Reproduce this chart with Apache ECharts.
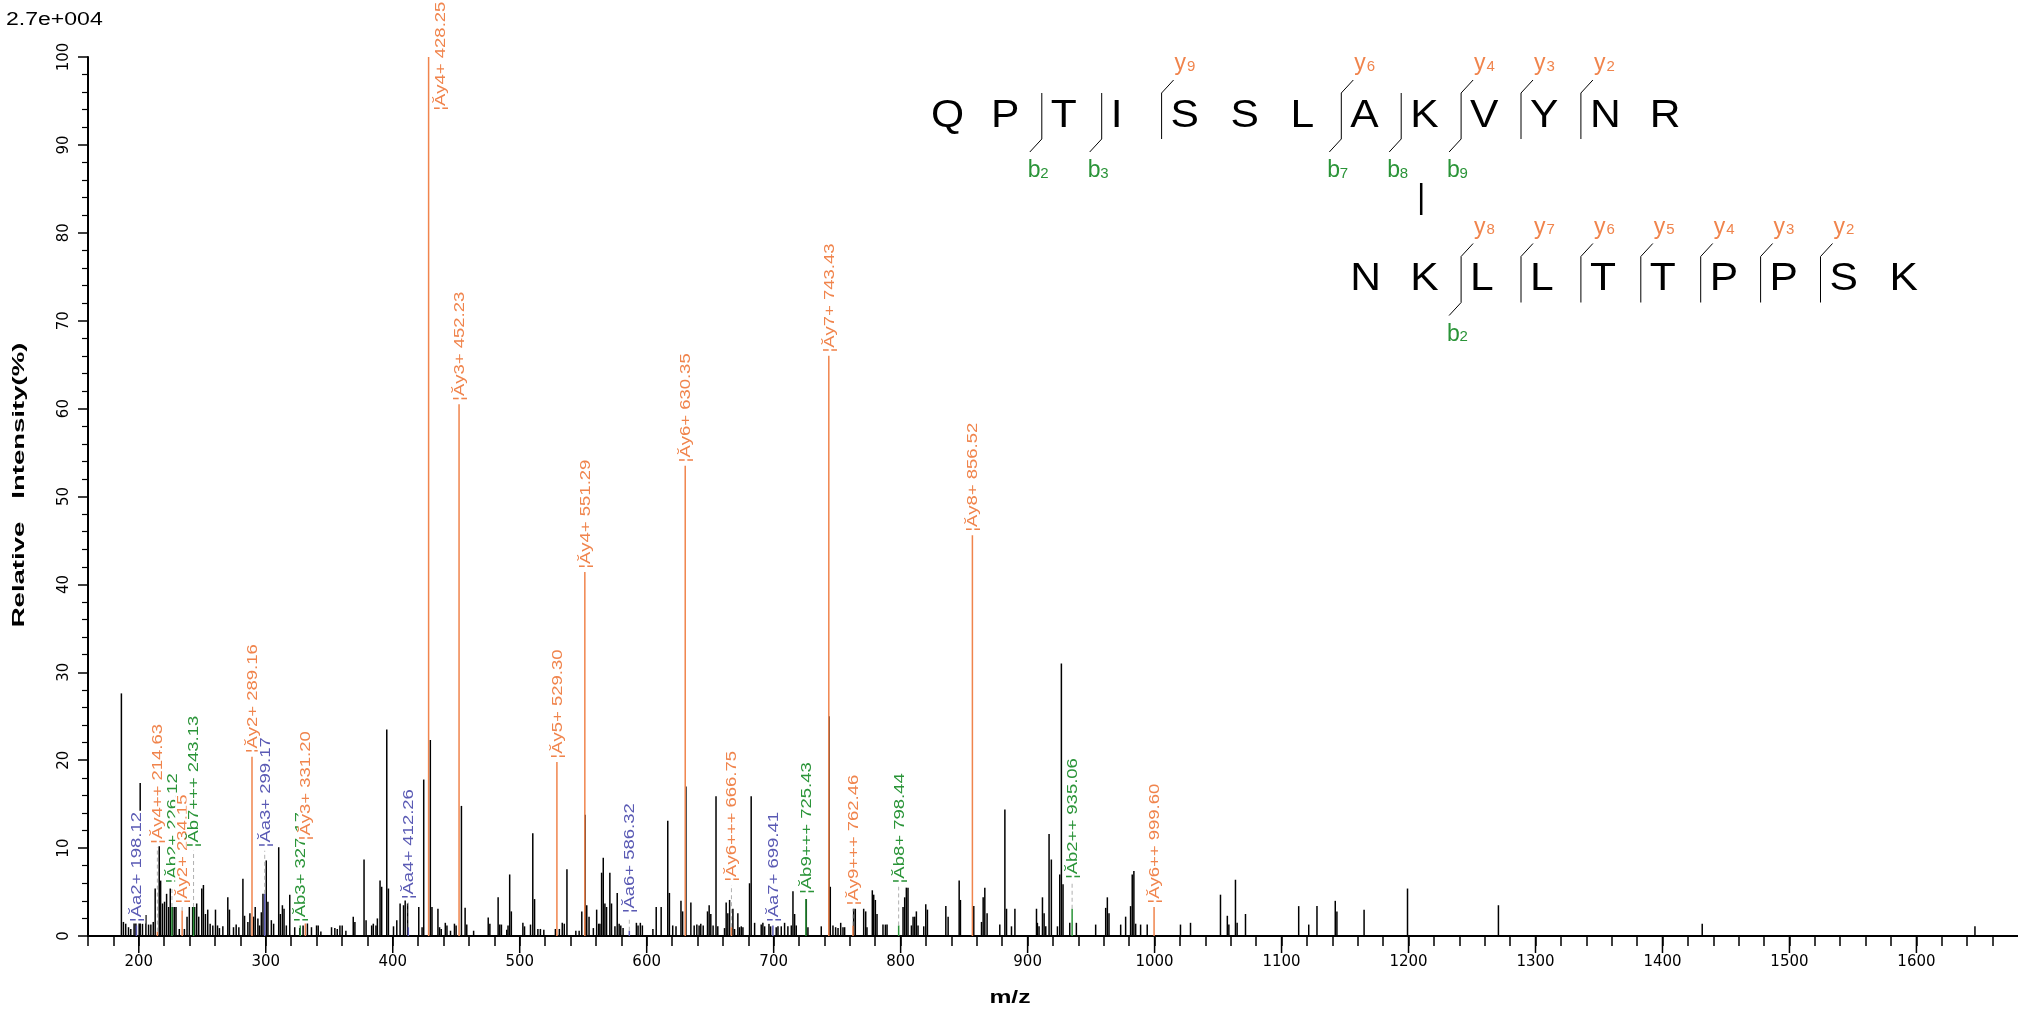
<!DOCTYPE html>
<html><head><meta charset="utf-8">
<script src="https://cdn.jsdelivr.net/npm/echarts@6/dist/echarts.min.js"></script>
<style>html,body{margin:0;padding:0;background:#fff}#c{width:2018px;height:1010px}</style>
</head><body><div id="c"></div>
<script>
// ---------- data ----------
const peakMz = [186.3,187.9,189.7,191.9,193.7,196.3,197.7,200.3,201.1,202.9,205.6,207.7,209.5,211.4,212.9,216.1,217.2,218.7,220.3,221.9,223.5,224.8,226.6,228.0,229.3,231.9,235.9,238.0,239.8,242.4,244.0,245.6,247.2,249.6,250.9,252.5,254.3,256.2,258.3,260.4,262.0,263.5,266.2,270.1,271.4,274.6,276.7,278.8,282.0,283.3,285.9,287.5,290.4,291.7,293.8,295.1,296.5,297.8,300.4,301.7,304.4,306.2,310.2,311.5,313.1,314.4,316.2,318.9,322.8,326.8,329.4,332.8,336.0,340.0,341.3,343.4,351.8,354.4,356.3,358.4,360.2,363.1,368.9,370.2,377.4,379.0,383.4,384.7,386.8,387.9,390.0,391.3,395.3,396.6,400.6,403.2,405.8,408.5,409.8,
411.7,420.5,423.1,424.4,429.6,430.9,435.6,436.9,438.2,441.4,442.7,445.5,448.6,449.9,454.1,457.0,458.3,463.7,475.2,476.5,483.0,484.3,485.6,489.8,490.8,492.1,493.4,502.5,503.8,508.5,510.3,511.7,514.3,516.3,519.0,528.1,531.2,533.5,535.1,537.2,544.2,546.8,548.9,551.5,552.8,554.6,558.0,560.6,562.2,563.2,564.5,565.8,567.1,568.4,571.0,572.3,575.0,576.8,578.3,579.6,581.4,591.9,593.2,595.0,596.6,604.9,607.5,611.4,616.6,617.9,620.5,623.1,627.0,628.3,630.9,634.8,637.4,639.5,641.3,642.6,644.5,647.9,649.2,650.5,652.3,654.6,
656.0,661.3,662.6,663.9,665.3,667.9,669.2,671.8,673.1,674.5,675.8,681.0,682.3,685.0,690.2,691.5,692.9,696.3,697.6,702.0,703.4,706.0,708.6,711.2,713.9,715.2,716.5,717.8,725.7,727.0,737.5,743.6,744.6,746.7,748.8,750.7,752.8,754.6,755.9,763.0,764.3,770.9,772.5,773.5,777.7,778.8,780.1,781.4,786.1,788.0,789.3,801.9,803.2,804.5,805.8,808.5,809.8,811.1,812.4,813.7,818.2,819.8,821.1,835.6,837.4,846.1,847.1,857.6,863.7,865.0,866.3,868.1,878.1,882.1,883.4,887.3,890.0,
907.0,907.7,909.0,911.7,913.0,914.3,916.9,918.7,923.5,925.3,926.6,927.9,933.2,938.4,953.6,961.5,962.8,964.1,973.3,977.2,981.1,982.4,983.7,985.1,989.0,994.2,1020.4,1028.3,1051.9,1057.3,1058.5,1063.7,1065.0,1071.6,1113.5,1121.4,1127.9,1142.3,1143.6,1165.0,1199.2,1270.8,1431.3,1646.1];
const peakInt = [27.6,1.6,1.4,1.0,0.8,1.6,2.2,2.2,17.4,1.4,2.4,1.3,1.3,1.6,5.4,10.2,6.3,3.7,3.9,4.8,3.3,5.4,3.3,3.3,3.3,0.8,0.8,2.2,3.3,3.3,3.3,3.7,2.2,5.4,5.8,2.5,3.0,1.4,1.2,3.0,1.2,0.9,1.1,4.4,3.0,1.0,1.3,1.0,6.5,2.3,1.6,2.6,2.2,3.3,2.0,1.2,2.7,4.8,8.6,3.9,1.8,1.4,10.1,2.5,3.5,3.1,1.2,4.7,1.0,0.9,1.2,1.6,1.0,1.2,1.2,0.5,1.0,0.9,0.8,1.2,1.2,0.6,2.2,1.6,8.7,1.8,1.2,1.4,1.2,2.0,6.3,5.6,23.5,5.4,1.1,1.8,3.7,3.5,4.1,
3.7,3.3,1.0,17.8,22.3,3.3,3.1,1.0,0.8,1.5,1.2,0.6,1.4,1.2,14.8,3.2,1.3,0.6,2.1,1.4,4.4,1.3,1.3,0.7,1.2,7.0,2.8,1.5,1.1,1.3,11.7,4.2,0.8,0.8,0.7,0.8,0.8,1.5,1.4,7.6,0.6,0.6,2.8,13.8,3.5,2.2,0.9,3.0,1.4,1.4,7.2,8.9,3.7,3.3,7.2,3.7,1.1,4.9,1.4,1.2,0.9,1.5,1.2,1.5,1.2,0.8,3.3,3.3,13.1,4.9,1.2,1.1,4.0,2.8,17.0,3.8,1.2,1.3,1.2,1.4,1.2,2.8,3.5,2.5,1.2,15.9,
1.1,0.9,3.8,2.6,4.1,3.1,0.8,2.6,1.0,1.1,1.0,6.0,15.9,1.5,1.3,1.5,1.1,1.4,1.1,1.0,1.1,1.1,1.5,1.1,1.2,5.1,2.5,1.2,4.2,1.0,1.1,25.0,5.6,1.2,1.0,0.9,1.5,1.0,1.0,3.1,3.1,3.1,2.8,1.0,5.2,4.7,4.1,2.5,1.3,1.3,1.3,3.3,4.4,5.5,5.5,1.2,2.2,2.2,2.8,1.2,1.1,3.6,3.0,3.4,2.2,6.3,4.1,3.4,1.6,4.4,5.5,2.6,1.3,14.4,3.1,1.1,3.1,
3.1,1.5,1.1,4.4,2.6,1.1,11.6,8.7,1.1,7.0,31.0,5.9,1.5,1.5,1.3,3.2,4.4,2.6,1.3,2.2,3.4,7.0,7.4,1.4,1.3,1.3,1.3,1.5,4.7,2.3,1.3,6.4,1.5,2.5,3.4,1.3,3.4,4.0,2.8,3.0,5.4,3.5,1.4,1.1];

const annMz = [198.12,214.63,226.12,234.15,243.13,289.16,299.17,327.17,331.20,412.26,428.25,452.23,529.30,551.29,586.32,630.35,666.75,699.41,725.43,743.43,762.46,798.44,856.52,935.06,999.60];
const annInt = [1.2,0.5,3.3,2.9,3.3,20.4,4.8,1.2,10.1,1.0,100,60.5,19.8,41.4,0.6,53.5,1.0,1.2,4.2,66.0,1.2,1.2,45.6,3.1,3.3];
const annLabelAt = [1.2,10.1,5.6,3.3,9.7,20.4,9.7,1.2,10.5,3.8,100,60.5,19.8,41.4,2.2,53.5,5.8,1.2,4.4,66.0,3.1,5.6,45.6,6.1,3.3];
const annIon = ['a2+','y4++','b2+','y2+','b7+++','y2+','a3+','b3+','y3+','a4+','y4+','y3+','y5+','y4+','a6+','y6+','y6+++','a7+','b9+++','y7+','y9+++','b8+','y8+','b2++','y6++'];

const xTickLabels = [200,300,400,500,600,700,800,900,1000,1100,1200,1300,1400,1500,1600];

const seq1 = ['Q','P','T','I','S','S','L','A','K','V','Y','N','R'];
const seq2 = ['N','K','L','L','T','T','P','P','S','K'];
const seq1B = [2,3,7,8,9];
const seq1Y = [9,6,4,3,2];
const seq2B = [2];
const seq2Y = [8,7,6,5,4,3,2];
const crossLink = [9,2];

// ---------- styles / layout ----------
const ORANGE = '#F0844C', GREEN = '#2A9438', BLUE = '#5A5AB4';
const FONT = '"Liberation Sans", Arial, sans-serif';
const LABEL_FS = 14, LABEL_SCALE = 1.32;
function ionColor(ion){ return ion[0]==='a'?BLUE:(ion[0]==='b'?GREEN:ORANGE); }
const mctx = document.createElement('canvas').getContext('2d');
mctx.font = LABEL_FS + 'px ' + FONT;

const chart = echarts.init(document.getElementById('c'));

// sequence diagram graphics
const g = [];
const W = 59.9, ROW1X = 920;
const rows = [
  {seq: seq1, bs: seq1B, ys: seq1Y, x0: ROW1X, cy: 116.5},
  {seq: seq2, bs: seq2B, ys: seq2Y, x0: ROW1X + (crossLink[0]-crossLink[1])*W, cy: 280}
];
function sub(letter, num, left, baseline, color){
  g.push({type:'text', x:left, y:baseline-0.35*23, style:{text:letter, font:'23px '+FONT, fill:color, align:'left', verticalAlign:'middle'}});
  g.push({type:'text', x:left+12.5, y:baseline-0.35*15, style:{text:String(num), font:'15px '+FONT, fill:color, align:'left', verticalAlign:'middle'}});
}
rows.forEach(r => {
  const capTop = r.cy - 13.5, capBot = r.cy + 13.5;
  const top = capTop - 10, bot = capBot + 9;
  r.seq.forEach((ch,i) => {
    g.push({type:'text', x:r.x0 + i*W + 11, y:r.cy, scaleX:1.12, style:{text:ch, font:'38px '+FONT, fill:'#000', align:'left', verticalAlign:'middle'}});
  });
  const L = r.seq.length;
  const cuts = new Set();
  r.bs.forEach(k => cuts.add(k));
  r.ys.forEach(n => cuts.add(L-n));
  cuts.forEach(k => {
    const x = r.x0 + k*W + 2;
    g.push({type:'line', shape:{x1:x,y1:top,x2:x,y2:bot}, style:{stroke:'#000', lineWidth:1}});
  });
  r.bs.forEach(k => {
    const x = r.x0 + k*W + 2;
    g.push({type:'line', shape:{x1:x,y1:bot,x2:x-12,y2:bot+13}, style:{stroke:'#000', lineWidth:1}});
    sub('b', k, x-14, bot+40, GREEN);
  });
  r.ys.forEach(n => {
    const x = r.x0 + (L-n)*W + 2;
    g.push({type:'line', shape:{x1:x,y1:top,x2:x+12,y2:top-13}, style:{stroke:'#000', lineWidth:1}});
    sub('y', n, x+13, top-21, ORANGE);
  });
});
// cross-link bar
{
  const x = ROW1X + (crossLink[0]-1)*W + 22;
  g.push({type:'line', shape:{x1:x,y1:183,x2:x,y2:215}, style:{stroke:'#000', lineWidth:2.5}});
}
// texts
g.push({type:'text', x:6, y:20, scaleX:1.28, style:{text:'2.7e+004', font:'18px '+FONT, fill:'#000', align:'left', verticalAlign:'middle'}});
g.push({type:'text', x:19, y:485, rotation:Math.PI/2, scaleX:1.62, style:{text:'Relative   Intensity(%)', font:'bold 17px '+FONT, fill:'#000', align:'center', verticalAlign:'middle'}});
g.push({type:'text', x:1010, y:998, scaleX:1.3, style:{text:'m/z', font:'bold 19px '+FONT, fill:'#000', align:'center', verticalAlign:'middle'}});

const peakData = peakMz.map((m,i)=>[m, peakInt[i]]);
const annData = annMz.map((m,i)=>[m, annInt[i], annLabelAt[i], i]);

chart.setOption({
  animation: false,
  backgroundColor: '#fff',
  grid: {left: 88, right: 0, top: 57, bottom: 74},
  xAxis: {
    type: 'value', min: 160, max: 1680, interval: 20,
    axisLine: {lineStyle: {color: '#000', width: 2}},
    axisTick: {length: 10, lineStyle: {color: '#000', width: 1.5}},
    axisLabel: {margin: 19, color: '#000', fontFamily: 'DejaVu Sans', fontSize: 15, showMaxLabel: false,
      formatter: v => (v % 100 === 0 ? String(v) : '')},
    splitLine: {show: false}
  },
  yAxis: {
    type: 'value', min: 0, max: 100, interval: 10,
    axisLine: {show: true, lineStyle: {color: '#000', width: 2}},
    axisTick: {show: true, length: 10, lineStyle: {color: '#000', width: 1.5}},
    minorTick: {show: true, splitNumber: 5, length: 6, lineStyle: {color: '#000', width: 1.2}},
    axisLabel: {rotate: 90, margin: 16, color: '#000', fontFamily: 'DejaVu Sans', fontSize: 15},
    splitLine: {show: false}
  },
  graphic: {elements: g},
  series: [
    {type: 'custom', name: 'peaks', data: peakData, z: 2, silent: true, clip: false,
      encode: {x: 0, y: 1},
      renderItem: (p, api) => {
        const a = api.coord([api.value(0), 0]), b = api.coord([api.value(0), api.value(1)]);
        return {type: 'line', shape: {x1: a[0], y1: a[1], x2: b[0], y2: b[1]}, style: {stroke: '#000', lineWidth: 1.5}};
      }},
    {type: 'custom', name: 'ionLines', data: annData, z: 3, silent: true, clip: false,
      encode: {x: 0, y: 1},
      renderItem: (p, api) => {
        const i = api.value(3), mz = api.value(0), h = api.value(1), la = api.value(2);
        const a = api.coord([mz, 0]), b = api.coord([mz, h]);
        const ch = [{type: 'line', shape: {x1: a[0], y1: a[1], x2: b[0], y2: b[1]}, style: {stroke: ionColor(annIon[i]), lineWidth: 1.5}}];
        if (la > h + 0.3) {
          const c = api.coord([mz, la]);
          ch.push({type: 'line', shape: {x1: b[0], y1: b[1], x2: c[0], y2: c[1]}, style: {stroke: '#b0b0b0', lineWidth: 1, lineDash: [4, 3]}});
        }
        return {type: 'group', children: ch};
      }},
    {type: 'custom', name: 'ionLabels', data: annData, z: 4, silent: true, clip: false,
      encode: {x: 0, y: 1},
      renderItem: (p, api) => {
        const i = api.value(3), mz = api.value(0), la = api.value(2);
        const c = api.coord([mz, la]);
        const text = '¦Ă' + annIon[i] + ' ' + mz.toFixed(2);
        const len = mctx.measureText(text).width * LABEL_SCALE;
        let x = c[0] + 1, y = c[1] - 2;
        if (y - len < 3) { y = 3 + len; x += 12; }
        return {type: 'text', x: x, y: y, rotation: Math.PI / 2, scaleX: LABEL_SCALE,
          style: {text: text, font: LABEL_FS + 'px ' + FONT, fill: ionColor(annIon[i]), align: 'left', verticalAlign: 'middle', backgroundColor: '#fff', padding: [1, 1]}};
      }},
    {type: 'custom', name: 'majorTicks', data: xTickLabels.map(v => [v, 0]), z: 5, silent: true, clip: false,
      encode: {x: 0, y: 1},
      renderItem: (p, api) => {
        const a = api.coord([api.value(0), 0]);
        return {type: 'line', shape: {x1: a[0], y1: a[1], x2: a[0], y2: a[1] + 17}, style: {stroke: '#000', lineWidth: 1.5}};
      }}
  ]
});
</script></body></html>
